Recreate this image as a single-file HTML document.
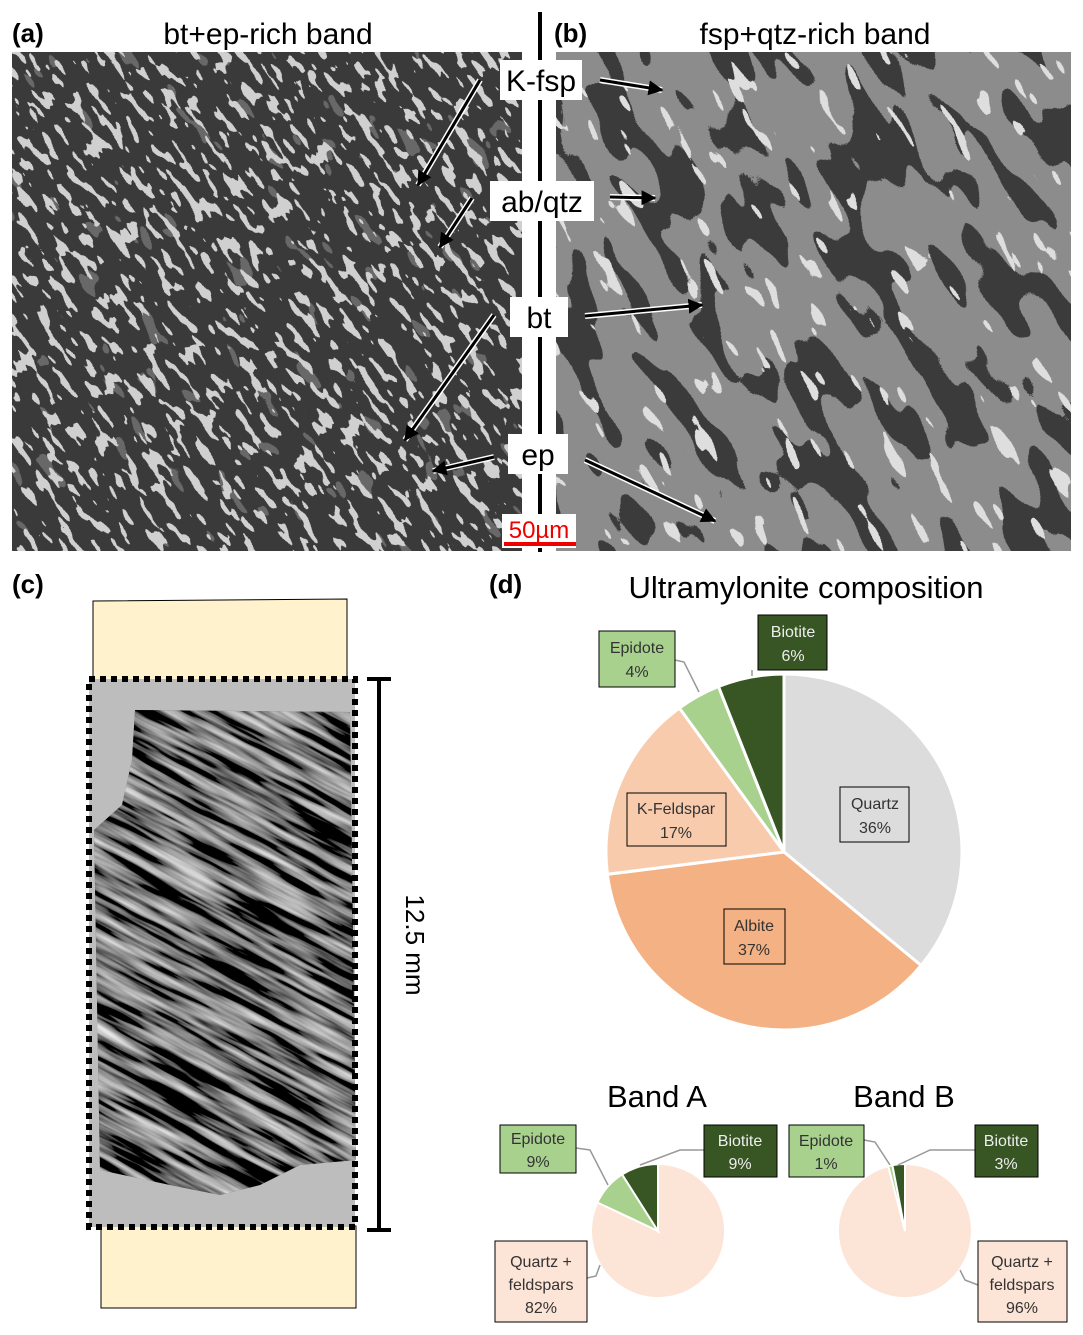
<!DOCTYPE html>
<html><head><meta charset="utf-8"><style>
html,body{margin:0;padding:0;background:#fff;overflow:hidden;width:1083px;height:1335px;}
svg{display:block;font-family:"Liberation Sans",sans-serif;}
</style></head><body>
<svg width="1083" height="1335" viewBox="0 0 1083 1335" xmlns="http://www.w3.org/2000/svg">
<defs>
<filter id="fa" x="0" y="0" width="100%" height="100%">
<feTurbulence type="fractalNoise" baseFrequency="0.12 0.045" numOctaves="2" seed="3" result="n"/>
<feColorMatrix in="n" type="matrix" values="0 0 0 0 0  0 0 0 0 0  0 0 0 0 0  1 0 0 0 0" result="a"/>
<feComponentTransfer in="a" result="t"><feFuncA type="discrete" tableValues="0 0 0 0 0 0 1 1 1 1"/></feComponentTransfer>
<feFlood flood-color="#d0d0d0" result="f"/><feComposite in="f" in2="t" operator="in"/>
</filter>
<filter id="fa2" x="0" y="0" width="100%" height="100%">
<feTurbulence type="fractalNoise" baseFrequency="0.06 0.025" numOctaves="2" seed="8" result="n"/>
<feColorMatrix in="n" type="matrix" values="0 0 0 0 0  0 0 0 0 0  0 0 0 0 0  1 0 0 0 0" result="a"/>
<feComponentTransfer in="a" result="t"><feFuncA type="discrete" tableValues="0 0 0 0 0 0 0 1 1 1"/></feComponentTransfer>
<feFlood flood-color="#686868" result="f"/><feComposite in="f" in2="t" operator="in"/>
</filter>
<filter id="fb" x="0" y="0" width="100%" height="100%">
<feTurbulence type="fractalNoise" baseFrequency="0.03 0.012" numOctaves="2" seed="5" result="n"/>
<feColorMatrix in="n" type="matrix" values="0 0 0 0 0  0 0 0 0 0  0 0 0 0 0  1 0 0 0 0" result="a"/>
<feComponentTransfer in="a" result="t"><feFuncA type="discrete" tableValues="1 1 1 1 1 1 1 1 1 0 0 0 0 0 0 0 0 0 0 0"/></feComponentTransfer>
<feFlood flood-color="#3a3a3a" result="f"/><feComposite in="f" in2="t" operator="in"/>
</filter>
<filter id="fb2" x="0" y="0" width="100%" height="100%">
<feTurbulence type="fractalNoise" baseFrequency="0.07 0.02" numOctaves="2" seed="11" result="n"/>
<feColorMatrix in="n" type="matrix" values="0 0 0 0 0  0 0 0 0 0  0 0 0 0 0  1 0 0 0 0" result="a"/>
<feComponentTransfer in="a" result="t"><feFuncA type="discrete" tableValues="0 0 0 0 0 0 0 1 1 1"/></feComponentTransfer>
<feFlood flood-color="#dedede" result="f"/><feComposite in="f" in2="t" operator="in"/>
</filter>
<filter id="fc" x="0" y="0" width="100%" height="100%">
<feTurbulence type="fractalNoise" baseFrequency="0.01 0.12" numOctaves="3" seed="2"/>
<feColorMatrix type="matrix" values="1.6 0 0 0 -0.62  1.6 0 0 0 -0.62  1.6 0 0 0 -0.62  0 0 0 0 1"/>
</filter>
<clipPath id="ca"><rect x="12" y="52" width="510" height="499"/></clipPath>
<clipPath id="cb"><rect x="556" y="52" width="515" height="499"/></clipPath>
<clipPath id="cc"><polygon points="135,710 350,712 356,1160 300,1165 260,1185 220,1195 170,1185 100,1170 94,830 122,805 132,760"/></clipPath>
<marker id="ah" viewBox="0 0 10 10" refX="9" refY="5" markerWidth="5" markerHeight="5" orient="auto"><path d="M0,0L10,5L0,10z" fill="#000"/></marker>
</defs>

<rect x="12" y="52" width="510" height="499" fill="#3a3a3a"/>
<g clip-path="url(#ca)">
<g transform="rotate(-35 267 300)"><rect x="-250" y="-200" width="1100" height="1000" fill="#000" filter="url(#fa2)"/></g>
<g transform="rotate(-35 267 300)"><rect x="-250" y="-200" width="1100" height="1000" fill="#000" filter="url(#fa)"/></g>
</g>
<rect x="556" y="52" width="515" height="499" fill="#8c8c8c"/>
<g clip-path="url(#cb)">
<g transform="rotate(-30 813 300)"><rect x="300" y="-200" width="1100" height="1000" fill="#000" filter="url(#fb)"/></g>
<g transform="rotate(-30 813 300)"><rect x="300" y="-200" width="1100" height="1000" fill="#000" filter="url(#fb2)"/></g>
</g>
<rect x="522" y="40" width="34" height="515" fill="#fff"/>
<rect x="538" y="12" width="4" height="540" fill="#000"/>

<text x="12" y="42" font-size="26" font-weight="bold">(a)</text>
<text x="268" y="44" font-size="30" text-anchor="middle">bt+ep-rich band</text>
<text x="554" y="42" font-size="26" font-weight="bold">(b)</text>
<text x="815" y="44" font-size="30" text-anchor="middle">fsp+qtz-rich band</text>

<g font-size="30" text-anchor="middle">
<rect x="500" y="60" width="82" height="40" fill="#fff"/><text x="541" y="91">K-fsp</text>
<rect x="490" y="181" width="104" height="40" fill="#fff"/><text x="542" y="212">ab/qtz</text>
<rect x="510" y="297" width="58" height="40" fill="#fff"/><text x="539" y="328">bt</text>
<rect x="508" y="434" width="60" height="40" fill="#fff"/><text x="538" y="465">ep</text>
</g>
<rect x="502" y="514" width="74" height="34" fill="#fff"/>
<text x="539" y="538" font-size="24" fill="#e00" text-anchor="middle">50µm</text>
<rect x="504" y="542" width="72" height="4" fill="#e00"/>

<g stroke="#fff" stroke-width="6" fill="none">
<line x1="480" y1="80" x2="418" y2="185"/><line x1="600" y1="80" x2="662" y2="90"/>
<line x1="472" y1="198" x2="440" y2="247"/><line x1="610" y1="197" x2="655" y2="198"/>
<line x1="494" y1="315" x2="405" y2="440"/><line x1="585" y1="316" x2="702" y2="305"/>
<line x1="494" y1="457" x2="433" y2="471"/><line x1="585" y1="460" x2="715" y2="521"/>
</g>
<g stroke="#000" stroke-width="3" fill="none" marker-end="url(#ah)">
<line x1="480" y1="80" x2="418" y2="185"/><line x1="600" y1="80" x2="662" y2="90"/>
<line x1="472" y1="198" x2="440" y2="247"/><line x1="610" y1="197" x2="655" y2="198"/>
<line x1="494" y1="315" x2="405" y2="440"/><line x1="585" y1="316" x2="702" y2="305"/>
<line x1="494" y1="457" x2="433" y2="471"/><line x1="585" y1="460" x2="715" y2="521"/>
</g>

<text x="12" y="593" font-size="26" font-weight="bold">(c)</text>
<polygon points="93,601 347,599 347,682 93,682" fill="#fff2cc" stroke="#000" stroke-width="1"/>
<polygon points="101,1226 356,1226 356,1308 101,1308" fill="#fff2cc" stroke="#000" stroke-width="1"/>
<rect x="89" y="679" width="266" height="548" fill="#bdbdbd"/>
<g clip-path="url(#cc)">
<rect x="80" y="700" width="290" height="500" fill="#555"/>
<g transform="rotate(28 225 950)"><rect x="-100" y="600" width="650" height="700" fill="#000" filter="url(#fc)"/></g>
</g>
<rect x="89" y="679" width="266" height="548" fill="none" stroke="#000" stroke-width="6" stroke-dasharray="6 5"/>
<g stroke="#000" stroke-width="4"><line x1="379" y1="679" x2="379" y2="1230"/><line x1="367" y1="679" x2="391" y2="679"/><line x1="367" y1="1230" x2="391" y2="1230"/></g>
<text x="0" y="0" font-size="26" transform="translate(406 945) rotate(90)" text-anchor="middle">12.5 mm</text>

<text x="489" y="593" font-size="26" font-weight="bold">(d)</text>
<text x="806" y="598" font-size="31" text-anchor="middle">Ultramylonite composition</text>
<g stroke="#fff" stroke-width="3">
<path d="M784,852 L784,674 A178,178 0 0 1 921.1,965.5 Z" fill="#dcdcdc"/>
<path d="M784,852 L921.1,965.5 A178,178 0 0 1 607.4,874.3 Z" fill="#f4b183"/>
<path d="M784,852 L607.4,874.3 A178,178 0 0 1 679.4,708 Z" fill="#f8cbad"/>
<path d="M784,852 L679.4,708 A178,178 0 0 1 718.5,686.5 Z" fill="#a9d18e"/>
<path d="M784,852 L718.5,686.5 A178,178 0 0 1 784,674 Z" fill="#375623"/>
</g>
<g stroke="#999" fill="none" stroke-width="1.5">
<polyline points="675,660 684,662 699,692"/>
<polyline points="752,670 752,676"/>
</g>
<g font-size="16" text-anchor="middle" fill="#333">
<rect x="599" y="631" width="76" height="56" fill="#a9d18e" stroke="#000"/><text x="637" y="653">Epidote</text><text x="637" y="677">4%</text>
<rect x="758" y="615" width="69" height="55" fill="#375623" stroke="#000"/><text x="793" y="637" fill="#eee">Biotite</text><text x="793" y="661" fill="#eee">6%</text>
<rect x="627" y="793" width="99" height="53" fill="none" stroke="#000"/><text x="676" y="814">K-Feldspar</text><text x="676" y="838">17%</text>
<rect x="840" y="787" width="69" height="55" fill="none" stroke="#000"/><text x="875" y="809">Quartz</text><text x="875" y="833">36%</text>
<rect x="724" y="909" width="61" height="55" fill="none" stroke="#000"/><text x="754" y="931">Albite</text><text x="754" y="955">37%</text>
</g>

<text x="657" y="1107" font-size="31" text-anchor="middle">Band A</text>
<text x="904" y="1107" font-size="31" text-anchor="middle">Band B</text>
<g stroke="#fff" stroke-width="2">
<path d="M658,1231 L658,1164 A67,67 0 1 1 597.4,1202.5 Z" fill="#fce4d6"/>
<path d="M658,1231 L597.4,1202.5 A67,67 0 0 1 622.1,1174.4 Z" fill="#a9d18e"/>
<path d="M658,1231 L622.1,1174.4 A67,67 0 0 1 658,1164 Z" fill="#375623"/>
<path d="M905,1231 L905,1164 A67,67 0 1 1 888.3,1166.1 Z" fill="#fce4d6"/>
<path d="M905,1231 L888.3,1166.1 A67,67 0 0 1 892.4,1165.2 Z" fill="#a9d18e"/>
<path d="M905,1231 L892.4,1165.2 A67,67 0 0 1 905,1164 Z" fill="#375623"/>
</g>
<g stroke="#999" fill="none" stroke-width="1.5">
<polyline points="576,1148 590,1150 608,1185"/>
<polyline points="704,1150 680,1150 640,1165"/>
<polyline points="587,1278 596,1276 600,1265"/>
<polyline points="864,1140 875,1142 890,1165"/>
<polyline points="975,1150 930,1150 898,1165"/>
<polyline points="978,1285 965,1280 960,1270"/>
</g>
<g font-size="16" text-anchor="middle" fill="#333">
<rect x="500" y="1125" width="76" height="48" fill="#a9d18e" stroke="#000"/><text x="538" y="1144">Epidote</text><text x="538" y="1167">9%</text>
<rect x="704" y="1125" width="73" height="52" fill="#375623" stroke="#000"/><text x="740" y="1146" fill="#eee">Biotite</text><text x="740" y="1169" fill="#eee">9%</text>
<rect x="495" y="1241" width="92" height="81" fill="#fce4d6" stroke="#000"/><text x="541" y="1267">Quartz +</text><text x="541" y="1290">feldspars</text><text x="541" y="1313">82%</text>
<rect x="789" y="1125" width="75" height="52" fill="#a9d18e" stroke="#000"/><text x="826" y="1146">Epidote</text><text x="826" y="1169">1%</text>
<rect x="975" y="1125" width="63" height="52" fill="#375623" stroke="#000"/><text x="1006" y="1146" fill="#eee">Biotite</text><text x="1006" y="1169" fill="#eee">3%</text>
<rect x="978" y="1241" width="89" height="81" fill="#fce4d6" stroke="#000"/><text x="1022" y="1267">Quartz +</text><text x="1022" y="1290">feldspars</text><text x="1022" y="1313">96%</text>
</g>
</svg>
</body></html>
